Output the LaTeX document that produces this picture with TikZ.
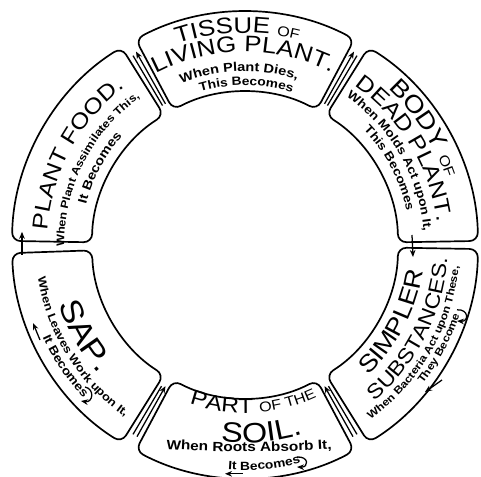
\documentclass[tikz,border=0pt]{standalone}
\usepackage{fontspec}
\usepackage{tikz}
\usetikzlibrary{arrows.meta,decorations.text}
\newfontfamily\ringfont[FakeStretch=1.15]{Liberation Sans}
\newcommand{\outr}{5.825}
\newcommand{\innr}{3.825}
\newcommand{\bigsize}[1]{\ringfont\fontsize{#1}{#1}\selectfont}
\newcommand{\smsize}[1]{\ringfont\bfseries\fontsize{#1}{#1}\selectfont}
% lettering round the ring: clockwise (tops out) and counter-clockwise (tops in)
\newcommand{\cwtext}[3]{\path[decorate,decoration={text along path,text align=center,text={#3}}]
  (#2+40:#1) arc[start angle=#2+40,end angle=#2-40,radius=#1];}
\newcommand{\ccwtext}[3]{\path[decorate,decoration={text along path,text align=center,text={#3}}]
  (#2-40:#1) arc[start angle=#2-40,end angle=#2+40,radius=#1];}
\tikzset{
  panel/.style={draw,line width=1.2pt,rounded corners=6pt,fill=white},
  flow/.style={line width=0.9pt,-{Stealth[length=5pt,width=4pt]}},
  edge/.style={line width=0.9pt}
}

\begin{document}
\begin{tikzpicture}[x=1cm,y=1cm]
  \useasboundingbox (-6.125,-5.8) rectangle (5.9,6.125);
  \foreach \lo/\hi in {62/118, 1/58, -58/-1, -118/-62, 182/238, 122/179}
    \draw[panel] (\lo:\outr) arc[start angle=\lo,end angle=\hi,radius=\outr]
      -- (\hi:\innr) arc[start angle=\hi,end angle=\lo,radius=\innr] -- cycle;

  \cwtext{5.3}{92}{|\bigsize{16}|TISSUE |\bigsize{10}|OF}
  \cwtext{4.83}{90.5}{|\bigsize{16}|LIVING PLANT.}
  \cwtext{4.34}{92}{|\smsize{9}|When Plant Dies,}
  \cwtext{3.99}{89.5}{|\smsize{8.5}|This Becomes}

  \cwtext{5.3}{33}{|\bigsize{17}|BODY |\bigsize{10}|OF}
  \cwtext{4.83}{31}{|\bigsize{15.5}|DEAD PLANT.}
  \cwtext{4.48}{30}{|\smsize{8.5}|When Molds Act upon It,}
  \cwtext{4.13}{28}{|\smsize{8.5}|This Becomes}

  \ccwtext{4.49}{-27.5}{|\bigsize{17}|SIMPLER}
  \ccwtext{5.07}{-27}{|\bigsize{14.5}|SUBSTANCES.}
  \ccwtext{5.37}{-30}{|\smsize{7.5}|When Bacteria Act upon These,}
  \ccwtext{5.64}{-28}{|\smsize{7.5}|They Become}

  \ccwtext{4.2}{-87}{|\bigsize{15}|PART |\bigsize{10}|OF THE}
  \ccwtext{4.95}{-85}{|\bigsize{20}|SOIL.}
  \path[decorate,decoration={text along path,text align=center,text={|\smsize{9.5}|When Roots Absorb It,}}]
    (-2.4,-5.07) .. controls (-0.7,-5.2) and (0.9,-5.2) .. (2.6,-5.07);
  \ccwtext{5.63}{-85}{|\smsize{8.5}|It Becomes}

  \ccwtext{4.88}{-150.4}{|\bigsize{22}|SAP.}
  \ccwtext{5.24}{-148}{|\smsize{8}|When Leaves Work upon It,}
  \ccwtext{5.56}{-146}{|\smsize{8.5}|It Becomes}

  \cwtext{4.95}{151.5}{|\bigsize{15.5}|PLANT FOOD.}
  \cwtext{4.52}{153}{|\smsize{7.75}|When Plant Assimilates This,}
  \cwtext{4.1}{152}{|\smsize{9}|It Becomes}

  \coordinate (ft1) at (119.4:4.05);  \coordinate (ft2) at (119.4:5.55);
  \coordinate (tb1) at (60.6:4.05);   \coordinate (tb2) at (60.6:5.55);
  \coordinate (ss1) at (-60.6:5.5);   \coordinate (ss2) at (-60.6:4.05);
  \coordinate (sp1) at (-119.4:5.5);  \coordinate (sp2) at (-119.4:4.05);
  \draw[flow] (ft1) -- (ft2);
  \draw[edge] (120.6:4.05) -- (120.6:5.5);
  \draw[flow] (tb1) -- (tb2);
  \draw[edge] (59.4:4.05) -- (59.4:5.5);
  \draw[flow] (ss1) -- (ss2);
  \draw[edge] (-59.4:5.5) -- (-59.4:4.1);
  \draw[flow] (sp1) -- (sp2);
  \draw[edge] (-120.6:5.5) -- (-120.6:4.1);

  \coordinate (bs1) at (4.175,0.25);  \coordinate (bs2) at (4.2,-0.3);
  \coordinate (sf1) at (-5.575,-0.25); \coordinate (sf2) at (-5.575,0.33);
  \draw[flow] (bs1) -- (bs2);
  \draw[flow] (sf1) -- (sf2);

  \draw[flow] (4.925,-3.375) -- (4.5,-3.675);
  \draw[flow] (5.3,-1.62) .. controls (5.6,-1.6) and (5.6,-1.92) .. (5.3,-1.9);
  \draw[flow] (1.3,-5.3) .. controls (1.6,-5.28) and (1.6,-5.56) .. (1.3,-5.55);
  \draw[flow] (-0.05,-5.72) -- (-0.5,-5.72);
  \draw[flow] (-5.125,-2.375) -- (-5.3,-1.95);
  \draw[flow] (-4.0,-3.55) .. controls (-3.75,-3.6) and (-3.8,-3.95) .. (-4.1,-3.9);
\end{tikzpicture}
\end{document}
